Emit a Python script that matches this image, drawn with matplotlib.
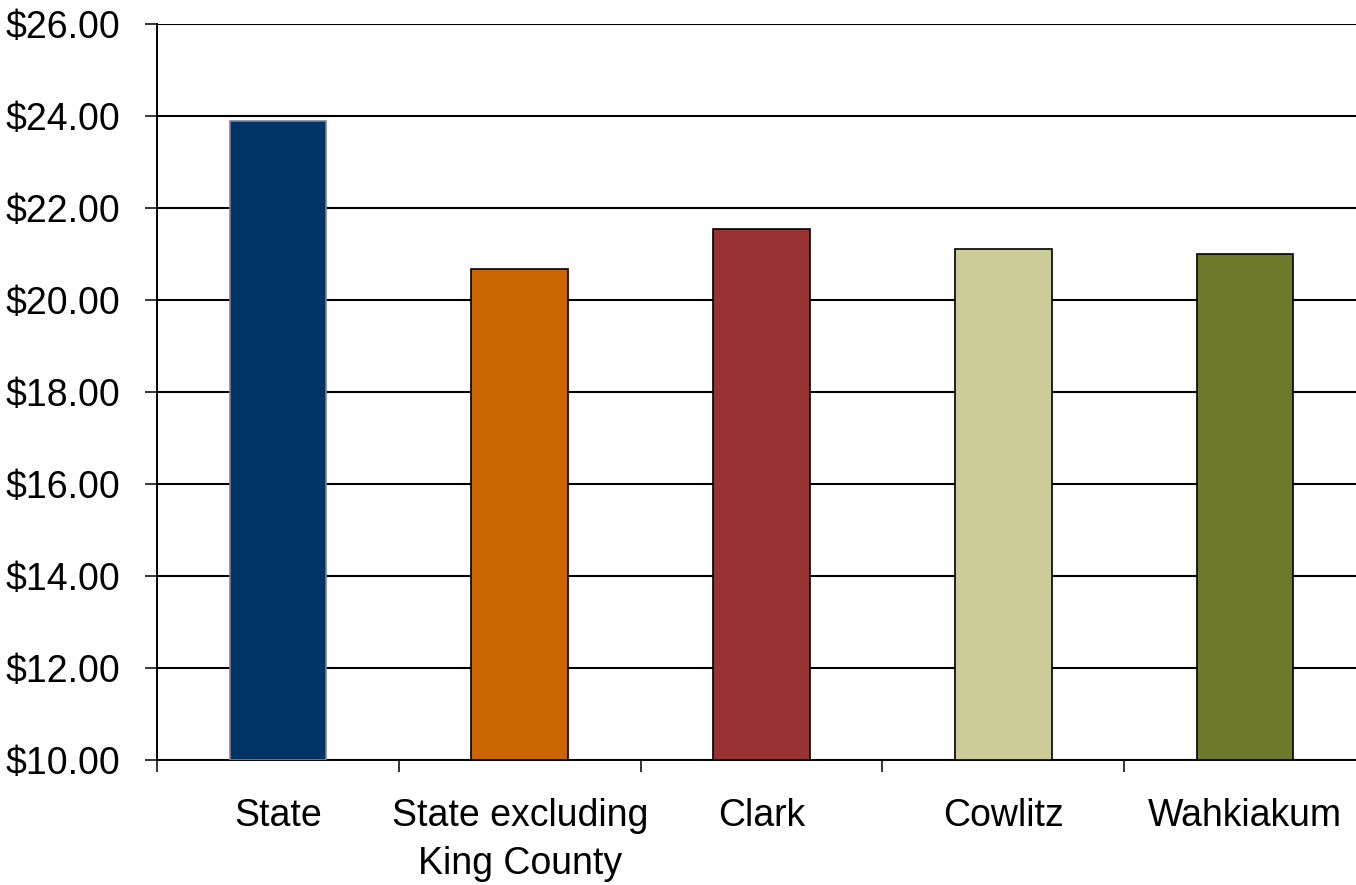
import matplotlib.pyplot as plt
from matplotlib import font_manager
import numpy as np

categories = ["State", "State excluding\nKing County", "Clark", "Cowlitz", "Wahkiakum"]
wages = [23.90, 20.67, 21.54, 21.11, 21.00]
colors = ["#003366", "#cc6600", "#993333", "#cccc99", "#6e7a2a"]
edges = ["#8080a0", "black", "black", "black", "black"]
yticks = [10, 12, 14, 16, 18, 20, 22, 24, 26]

names = {f.name for f in font_manager.fontManager.ttflist}
family = "Liberation Sans Narrow" if "Liberation Sans Narrow" in names else "Liberation Sans"
plt.rcParams['font.family'] = [family, 'DejaVu Sans']

fig = plt.figure(figsize=(13.56, 8.85), dpi=100)
ax = fig.add_axes([0.1158, 0.1412, 0.8916, 0.8317])

x = np.arange(len(categories))
ax.bar(x, [w - 10 for w in wages], bottom=10, width=0.4, color=colors,
       edgecolor=edges, linewidth=1.2, zorder=3)

ax.set_xlim(-0.5, len(categories) - 0.5)
ax.set_ylim(10, 26)
ax.set_yticks(yticks)
ax.set_yticklabels([f"${v:.2f}" for v in yticks], fontsize=27)
ax.yaxis.grid(True, color="black", linewidth=1.5, zorder=0)

ax.set_xticks(x)
ax.set_xticklabels(categories, fontsize=27, linespacing=1.45)
ax.tick_params(axis="x", which="major", length=0, pad=27)
ax.set_xticks(np.arange(len(categories) + 1) - 0.5, minor=True)
ax.tick_params(axis="x", which="minor", length=8.6, width=1.1, direction="out")
ax.tick_params(axis="y", length=8.6, width=1.1, pad=18)

for s in ["top", "right"]:
    ax.spines[s].set_visible(False)
for s in ["left", "bottom"]:
    ax.spines[s].set_linewidth(1.4)

fig.savefig("out.png", dpi=100)
